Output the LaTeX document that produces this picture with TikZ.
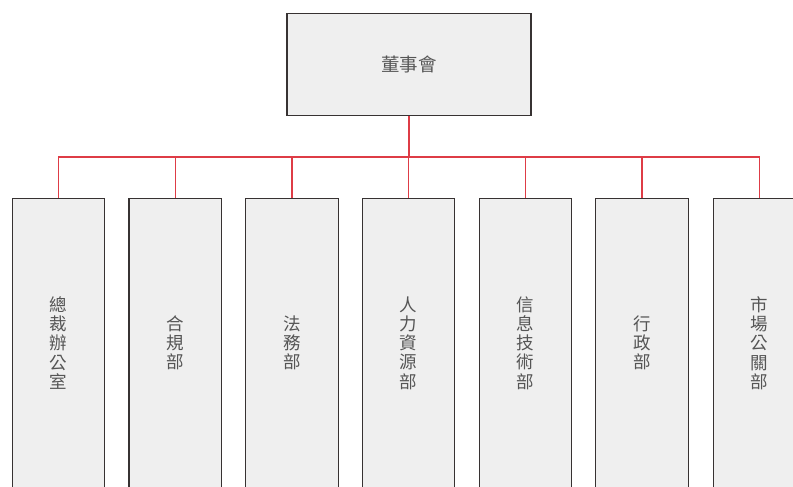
\documentclass[tikz,border=0pt]{standalone}
\usepackage{fontspec}
\newfontfamily\cjk{Noto Sans CJK TC}
\definecolor{boxfill}{RGB}{239,239,239}
\definecolor{boxline}{RGB}{55,50,50}
\definecolor{linkred}{RGB}{222,60,70}
\definecolor{txt}{RGB}{85,85,85}
\begin{document}
\begin{tikzpicture}[x=1pt,y=-1pt,
  orgbox/.style={draw=boxline,fill=boxfill,line width=1.1pt,inner sep=0pt,
    font=\cjk\fontsize{17.5}{19.3}\selectfont,text=txt,align=center},
  link/.style={draw=linkred,line width=1.1pt}]
\useasboundingbox (0,0) rectangle (793,487);
\node[orgbox,minimum width=244pt,minimum height=102pt,font=\cjk\fontsize{18.5}{20}\selectfont] (top) at (409,64.5) {董事會};
\coordinate (bus) at (409,157);
\foreach \n/\x/\t in {a/58.5/總\\裁\\辦\\公\\室, b/175.2/合\\規\\部, c/292/法\\務\\部,
  d/408.5/人\\力\\資\\源\\部, e/525.5/信\\息\\技\\術\\部, f/642/行\\政\\部, g/759.3/市\\場\\公\\關\\部}{
  \node[orgbox,minimum width=92.5pt,minimum height=320pt,anchor=north] (\n) at (\x,198) {};
  \node[orgbox,draw=none,fill=none] (\n t) at (\x,343) {\t};
}
\draw[link] (top.south) -- (bus);
\draw[link] (a.north) -- (a.north |- bus) -- (g.north |- bus) -- (g.north);
\foreach \n in {b,c,d,e,f}{
  \draw[link] (\n.north) -- (\n.north |- bus);
}
\end{tikzpicture}
\end{document}
